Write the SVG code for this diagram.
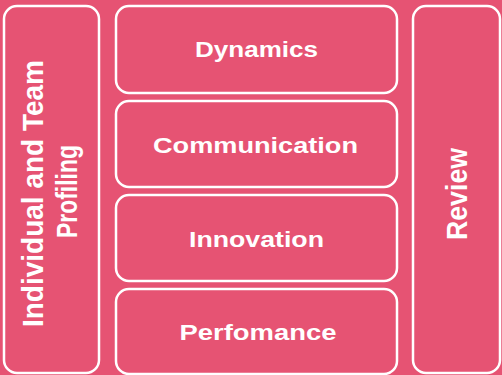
<svg xmlns="http://www.w3.org/2000/svg" width="502" height="375" viewBox="0 0 502 375">
<style>
.box{fill:#E65373;stroke:#FFFFFF;stroke-width:2.5}
.t{fill:#FFFFFF;font-family:"Liberation Sans",Arial,sans-serif;font-weight:bold;text-anchor:middle}
.m{font-size:22px}
.v{font-size:29px}
</style>
<rect x="0" y="0" width="502" height="375" fill="#E65373"/>
<g id="profiling">
<rect class="box" x="4" y="6" width="95" height="367" rx="13"/>
<text class="t v" transform="translate(42.7,193.5) rotate(-90)" x="0" y="0" textLength="267" lengthAdjust="spacingAndGlyphs">Individual and Team</text>
<text class="t v" transform="translate(77.3,191.5) rotate(-90)" x="0" y="0" textLength="93" lengthAdjust="spacingAndGlyphs">Profiling</text>
</g>
<g id="dynamics">
<rect class="box" x="116" y="6" width="281" height="87" rx="13"/>
<text class="t m" x="256.5" y="57" textLength="123" lengthAdjust="spacingAndGlyphs">Dynamics</text>
</g>
<g id="communication">
<rect class="box" x="116" y="101" width="281" height="86" rx="13"/>
<text class="t m" x="255.5" y="153.3" textLength="205" lengthAdjust="spacingAndGlyphs">Communication</text>
</g>
<g id="innovation">
<rect class="box" x="116" y="195" width="281" height="86" rx="13"/>
<text class="t m" x="256.5" y="246.5" textLength="135" lengthAdjust="spacingAndGlyphs">Innovation</text>
</g>
<g id="perfomance">
<rect class="box" x="116" y="289" width="281" height="85" rx="13"/>
<text class="t m" x="258" y="340" textLength="157" lengthAdjust="spacingAndGlyphs">Perfomance</text>
</g>
<g id="review">
<rect class="box" x="413" y="6" width="87" height="367" rx="13"/>
<text class="t v" transform="translate(466.7,194) rotate(-90)" x="0" y="0" textLength="92" lengthAdjust="spacingAndGlyphs">Review</text>
</g>
<g id="connectors"></g>
</svg>
